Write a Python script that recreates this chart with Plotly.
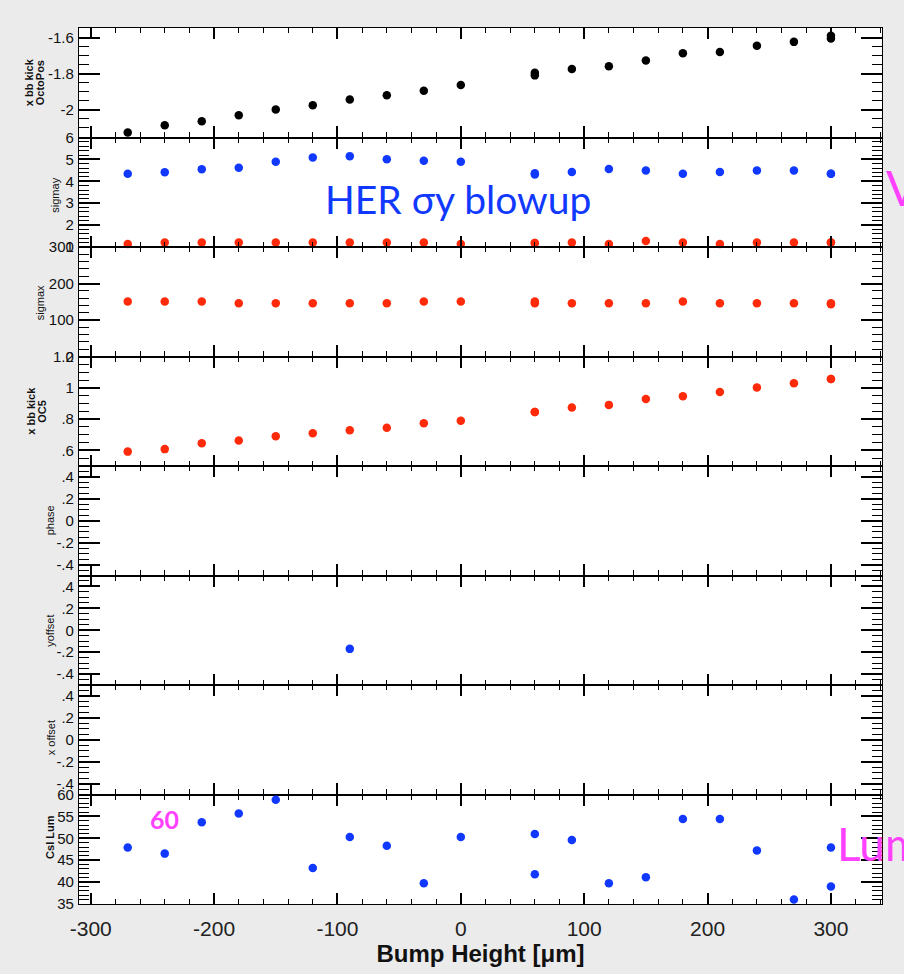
import plotly.graph_objects as go
from plotly.subplots import make_subplots

# ---------------- data ----------------
bump_x = [-270, -240, -210, -180, -150, -120, -90, -60, -30, 0,
          60, 60, 90, 120, 150, 180, 210, 240, 270, 300, 300]

octo_kick = [-2.127, -2.087, -2.065, -2.031, -2.000, -1.976, -1.944, -1.920, -1.896, -1.864,
             -1.795, -1.810, -1.775, -1.760, -1.727, -1.687, -1.680, -1.645, -1.624, -1.590, -1.605]

sigmay_her = [4.35, 4.41, 4.55, 4.62, 4.89, 5.09, 5.15, 5.01, 4.94, 4.89,
              4.37, 4.31, 4.43, 4.56, 4.49, 4.35, 4.43, 4.49, 4.49, 4.35, 4.35]

sigmay_ler = [1.14, 1.20, 1.20, 1.20, 1.20, 1.20, 1.20, 1.20, 1.20, 1.14,
              1.18, 1.18, 1.20, 1.14, 1.27, 1.20, 1.14, 1.20, 1.20, 1.20, 1.20]

sigmax_ler = [151, 151, 151, 146, 146, 146, 146, 146, 151, 151,
              151, 146, 146, 146, 146, 151, 146, 146, 146, 146, 143]

oc5_kick = [0.592, 0.608, 0.645, 0.663, 0.691, 0.709, 0.728, 0.744, 0.773, 0.790,
            0.845, 0.845, 0.874, 0.891, 0.928, 0.946, 0.973, 1.002, 1.029, 1.056, 1.056]

yoffset_x = [-90]
yoffset_val = [-0.17]

csi_lum = [47.9, 46.5, 53.7, 55.7, 58.8, 43.2, 50.3, 48.3, 39.7, 50.3,
           51.0, 41.8, 49.6, 39.7, 41.1, 54.4, 54.4, 47.2, 36.0, 47.9, 39.0]

# tick labels per panel (ROOT style)
ticks_octo = ([-1.6, -1.8, -2.0], ["-1.6", "-1.8", "-2"])
ticks_sigy = ([6, 5, 4, 3, 2, 1], ["6", "5", "4", "3", "2", "1"])
ticks_sigx = ([300, 200, 100, 0], ["300", "200", "100", "0"])
ticks_oc5 = ([1.2, 1.0, 0.8, 0.6], ["1.2", "1", ".8", ".6"])
ticks_pm = ([0.4, 0.2, 0, -0.2, -0.4], [".4", ".2", "0", "-.2", "-.4"])
ticks_lum = ([60, 55, 50, 45, 40, 35], ["60", "55", "50", "45", "40", "35"])

x_tickvals = [-300, -200, -100, 0, 100, 200, 300]
x_ticktext = ["-300", "-200", "-100", "0", "100", "200", "300"]

# ---------------- layout geometry ----------------
W, H = 904, 974
L, R, T, B = 79, 882, 28, 916

def px_x(p):
    return (p - L) / (R - L)

def px_y(p):
    return (B - p) / (B - T)

BLACK = "#000000"
BLUE = "#1038ff"
RED = "#ff2a0a"
MAG = "#ff40ff"
FONT = "Liberation Sans, Arial, sans-serif"

fig = make_subplots(rows=8, cols=1, shared_xaxes=True, vertical_spacing=0)

mk = dict(size=8.5, line=dict(width=0))
fig.add_trace(go.Scatter(x=bump_x, y=octo_kick, mode="markers", marker=dict(color=BLACK, **mk)), 1, 1)
fig.add_trace(go.Scatter(x=bump_x, y=sigmay_her, mode="markers", marker=dict(color=BLUE, **mk)), 2, 1)
fig.add_trace(go.Scatter(x=bump_x, y=sigmay_ler, mode="markers", marker=dict(color=RED, **mk), cliponaxis=False), 2, 1)
fig.add_trace(go.Scatter(x=bump_x, y=sigmax_ler, mode="markers", marker=dict(color=RED, **mk)), 3, 1)
fig.add_trace(go.Scatter(x=bump_x, y=oc5_kick, mode="markers", marker=dict(color=RED, **mk)), 4, 1)
fig.add_trace(go.Scatter(x=[None], y=[None], mode="markers", marker=dict(color=BLUE, **mk)), 5, 1)
fig.add_trace(go.Scatter(x=yoffset_x, y=yoffset_val, mode="markers", marker=dict(color=BLUE, **mk)), 6, 1)
fig.add_trace(go.Scatter(x=[None], y=[None], mode="markers", marker=dict(color=BLUE, **mk)), 7, 1)
fig.add_trace(go.Scatter(x=bump_x, y=csi_lum, mode="markers", marker=dict(color=BLUE, **mk)), 8, 1)

panels = [
    (ticks_octo, [-2.155, -1.547], 0.05),
    (ticks_sigy, [0.999, 6.001], 0.2),
    (ticks_sigx, [-0.3, 300.3], 20),
    (ticks_oc5, [0.5, 1.2005], 0.05),
    (ticks_pm, [-0.5, 0.5], 0.05),
    (ticks_pm, [-0.5, 0.5], 0.05),
    (ticks_pm, [-0.5, 0.5], 0.05),
    (ticks_lum, [34.98, 60.02], 1),
]

tickfont_y = dict(family=FONT, size=15, color="#111111")
for i, ((tv, tt), rng, mdt) in enumerate(panels, start=1):
    fig.update_yaxes(
        row=i, col=1, range=rng, tickmode="array", tickvals=tv, ticktext=tt,
        ticks="inside", ticklen=21, tickwidth=1.6, tickcolor=BLACK,
        showline=True, linecolor=BLACK, linewidth=1.2, mirror="ticks",
        showgrid=False, zeroline=False, tickfont=tickfont_y, ticklabelstandoff=1,
        minor=dict(ticks="inside", ticklen=10, tickwidth=1.4, tickcolor=BLACK, dtick=mdt, showgrid=False),
    )
    fig.update_xaxes(
        row=i, col=1, range=[-309.5, 341.4], tickmode="array",
        tickvals=x_tickvals, ticktext=x_ticktext,
        ticks="inside", ticklen=11, tickwidth=1.6, tickcolor=BLACK,
        showline=True, linecolor=BLACK, linewidth=1.2, mirror="ticks",
        showgrid=False, zeroline=False, showticklabels=(i == 8),
        minor=dict(ticks="inside", ticklen=5, tickwidth=1.4, tickcolor=BLACK, dtick=20, tick0=0, showgrid=False),
    )

fig.update_xaxes(
    row=8, col=1,
    tickfont=dict(family=FONT, size=21, color="#222222"),
    ticklabelstandoff=6,
    title=dict(text="<b>Bump Height [\u03bcm]</b>", standoff=5,
               font=dict(family=FONT, size=24, color="#111111")),
)

# y axis titles as annotations (ROOT-like placement)
ytitles = [
    ("<b>x bb kick</b>", 29, 83, 11),
    ("<b>OctoPos</b>", 40, 84, 11),
    ("sigmay", 55, 198, 11),
    ("sigmax", 40, 307, 11),
    ("<b>x bb kick</b>", 31, 416, 11),
    ("<b>OC5</b>", 42, 417, 11),
    ("phase", 50, 527, 11),
    ("yoffset", 50, 639, 11),
    ("x offset", 51, 748, 11),
    ("<b>CsI Lum</b>", 50, 848, 11),
]
annots = []
for txt, xp, yp, fs in ytitles:
    annots.append(dict(text=txt, x=px_x(xp), y=px_y(yp), xref="paper", yref="paper",
                       xanchor="center", yanchor="middle", textangle=-90, showarrow=False,
                       font=dict(family=FONT, size=fs, color="#111111")))

annots += [
    dict(text="HER \u03c3y blowup", x=px_x(323), y=px_y(201), xref="paper", yref="paper",
         xanchor="left", yanchor="middle", showarrow=False,
         font=dict(family="Lato, Open Sans, sans-serif", size=39, color=BLUE)),
    dict(text="V", x=px_x(884), y=px_y(190), xref="paper", yref="paper",
         xanchor="left", yanchor="middle", showarrow=False,
         font=dict(family="Lato, Open Sans, sans-serif", size=48, color=MAG)),
    dict(text="Lum", x=px_x(835), y=px_y(855), xref="paper", yref="paper",
         xanchor="left", yanchor="middle", showarrow=False,
         font=dict(family="Lato, Open Sans, sans-serif", size=46, color=MAG)),
    dict(text="<b>60</b>", x=px_x(164), y=px_y(830), xref="paper", yref="paper",
         xanchor="center", yanchor="middle", showarrow=False,
         font=dict(family="Lato, Open Sans, sans-serif", size=25, color=MAG)),
]

fig.update_layout(
    width=W, height=H, margin=dict(l=L, r=W - R, t=T, b=H - B, pad=0),
    paper_bgcolor="#ebebeb", plot_bgcolor="#ffffff", showlegend=False,
    annotations=annots,
)

fig.write_html("out.html")
